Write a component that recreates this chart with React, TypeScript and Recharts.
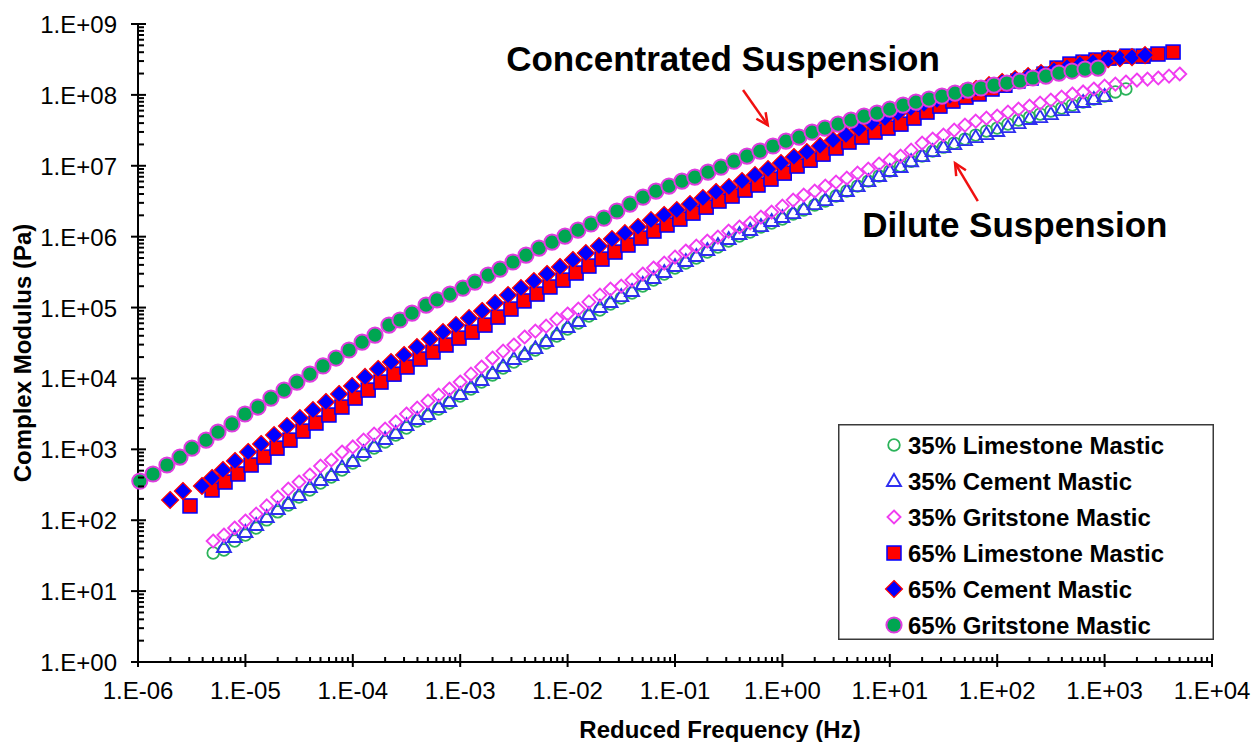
import React from "react";
import {
  ScatterChart,
  Scatter,
  XAxis,
  YAxis,
  Legend,
  Label,
  ReferenceLine,
} from "recharts";

const FONT = '"Liberation Sans", Arial, sans-serif';

// reduced frequency grid (Hz) shared by the 35% mastics
const FREQ_35 = [
  5.01e-6, 6.31e-6, 7.94e-6,
  1.0e-5, 1.26e-5, 1.58e-5, 2.0e-5, 2.51e-5, 3.16e-5, 3.98e-5, 5.01e-5, 6.31e-5, 7.94e-5,
  1.0e-4, 1.26e-4, 1.58e-4, 2.0e-4, 2.51e-4, 3.16e-4, 3.98e-4, 5.01e-4, 6.31e-4, 7.94e-4,
  1.0e-3, 1.26e-3, 1.58e-3, 2.0e-3, 2.51e-3, 3.16e-3, 3.98e-3, 5.01e-3, 6.31e-3, 7.94e-3,
  1.0e-2, 1.26e-2, 1.58e-2, 2.0e-2, 2.51e-2, 3.16e-2, 3.98e-2, 5.01e-2, 6.31e-2, 7.94e-2,
  0.1, 0.126, 0.158, 0.2, 0.251, 0.316, 0.398, 0.501, 0.631, 0.794,
  1.0, 1.26, 1.58, 2.0, 2.51, 3.16, 3.98, 5.01, 6.31, 7.94,
  10, 12.6, 15.8, 20, 25.1, 31.6, 39.8, 50.1, 63.1, 79.4,
  100, 126, 158, 200, 251, 316, 398, 501, 631, 794,
  1.0e3, 1.26e3, 1.58e3, 2.0e3, 2.51e3, 3.16e3, 3.98e3, 5.01e3,
];

// complex modulus (Pa), 35% mastics
const lim35Mod = [
  34.5, 38.0, 50.9, 61.8, 77.6, 101, 131, 164, 212, 267,
  335, 407, 511, 641, 831, 1.04e3, 1.27e3, 1.59e3, 2.0e3, 2.51e3,
  2.95e3, 3.7e3, 4.5e3, 5.65e3, 7.09e3, 8.9e3, 1.12e4, 1.4e4, 1.7e4, 2.07e4,
  2.52e4, 3.16e4, 3.96e4, 4.98e4, 6.05e4, 7.59e4, 9.22e4, 1.12e5, 1.36e5, 1.6e5,
  2.01e5, 2.44e5, 2.97e5, 3.61e5, 4.24e5, 4.99e5, 6.07e5, 7.13e5, 8.67e5, 1.02e6,
  1.16e6, 1.37e6, 1.56e6, 1.77e6, 2.08e6, 2.37e6, 2.79e6, 3.18e6, 3.74e6, 4.4e6,
  5.17e6, 6.08e6, 7.16e6, 8.42e6, 9.9e6, 1.16e7, 1.37e7, 1.61e7, 1.83e7, 2.09e7,
  2.38e7, 2.71e7, 3.09e7, 3.4e7, 3.87e7, 4.41e7, 4.86e7, 5.36e7, 5.91e7, 6.51e7,
  7.18e7, 7.92e7, 8.73e7, 9.62e7, 1.1e8, 1.21e8,
];

const cem35Mod = [
  41.9, 57.9, 68.2, 85.6, 111, 144, 175, 227, 294, 369,
  434, 563, 684, 916, 1.11e3, 1.4e3, 1.7e3, 2.2e3, 2.68e3, 3.15e3,
  3.95e3, 4.8e3, 6.03e3, 7.56e3, 9.49e3, 1.19e4, 1.5e4, 1.88e4, 2.21e4, 2.68e4,
  3.37e4, 4.23e4, 5.31e4, 6.45e4, 8.1e4, 1.02e5, 1.2e5, 1.45e5, 1.71e5, 2.15e5,
  2.61e5, 3.17e5, 3.85e5, 4.53e5, 5.33e5, 6.47e5, 7.61e5, 9.25e5, 1.09e6, 1.24e6,
  1.41e6, 1.66e6, 1.89e6, 2.15e6, 2.45e6, 2.88e6, 3.28e6, 3.74e6, 4.4e6, 5.17e6,
  6.08e6, 7.16e6, 8.42e6, 9.59e6, 1.16e7, 1.37e7, 1.61e7, 1.83e7, 2.02e7, 2.3e7,
  2.54e7, 2.8e7, 3.09e7, 3.51e7, 4.0e7, 4.56e7, 4.86e7, 5.36e7, 6.1e7, 6.73e7,
  7.92e7, 8.73e7, 9.62e7,
];

const grit35Mod = [
  50.9, 61.8, 77.6, 97.4, 122, 159, 212, 275, 346, 434,
  581, 707, 916, 1.08e3, 1.35e3, 1.64e3, 1.93e3, 2.43e3, 3.15e3, 3.82e3,
  4.8e3, 5.83e3, 7.09e3, 8.9e3, 1.15e4, 1.45e4, 1.94e4, 2.43e4, 2.96e4, 3.84e4,
  4.66e4, 5.48e4, 6.88e4, 8.1e4, 9.52e4, 1.2e5, 1.5e5, 1.82e5, 2.01e5, 2.44e5,
  2.97e5, 3.61e5, 4.24e5, 5.16e5, 6.27e5, 7.37e5, 8.67e5, 9.87e5, 1.2e6, 1.37e6,
  1.56e6, 1.89e6, 2.22e6, 2.7e6, 3.28e6, 3.86e6, 4.4e6, 5.17e6, 5.89e6, 6.71e6,
  7.89e6, 8.98e6, 1.06e7, 1.2e7, 1.37e7, 1.66e7, 2.09e7, 2.38e7, 2.71e7, 3.19e7,
  3.75e7, 4.27e7, 4.71e7, 5.02e7, 5.72e7, 6.3e7, 6.95e7, 7.66e7, 8.45e7, 9.31e7,
  1.03e8, 1.1e8, 1.21e8, 1.33e8, 1.42e8, 1.52e8, 1.62e8, 1.67e8, 1.73e8, 1.84e8,
  1.97e8,
];

// 65% mastics
const lim65Freq = [
  3.05e-6, 4.89e-6, 6.46e-6, 8.53e-6, 1.13e-5, 1.49e-5, 1.97e-5, 2.6e-5, 3.44e-5, 4.54e-5,
  6.0e-5, 7.92e-5, 1.05e-4, 1.39e-4, 1.83e-4, 2.42e-4, 3.2e-4, 4.23e-4, 5.58e-4, 7.38e-4,
  9.75e-4, 1.29e-3, 1.7e-3, 2.25e-3, 2.97e-3, 3.93e-3, 5.19e-3, 6.85e-3, 9.06e-3, 1.2e-2,
  1.58e-2, 2.09e-2, 2.76e-2, 3.65e-2, 4.82e-2, 6.37e-2, 8.43e-2, 0.111, 0.147, 0.195,
  0.257, 0.34, 0.449, 0.593, 0.783, 1.04, 1.37, 1.81, 2.39, 3.16,
  4.17, 5.51, 7.28, 9.62, 12.7, 16.8, 22.2, 29.3, 38.7, 51.2,
  67.8, 89.5, 118, 156, 207, 273, 361, 476, 630, 832,
  1.1e3, 1.62e3, 2.28e3, 3.14e3, 4.34e3,
];
const lim65Mod = [
  159, 267, 346, 449, 601, 778, 1.04e3, 1.35e3, 1.81e3, 2.35e3,
  3.05e3, 3.95e3, 5.29e3, 6.86e3, 8.89e3, 1.15e4, 1.45e4, 1.88e4, 2.36e4, 2.96e4,
  3.71e4, 4.51e4, 5.66e4, 7.34e4, 9.53e4, 1.24e5, 1.55e5, 1.95e5, 2.44e5, 3.07e5,
  3.85e5, 4.83e5, 6.07e5, 7.62e5, 9.55e5, 1.2e6, 1.46e6, 1.77e6, 2.15e6, 2.61e6,
  3.18e6, 3.74e6, 4.54e6, 5.35e6, 6.49e6, 7.88e6, 9.91e6, 1.2e7, 1.46e7, 1.78e7,
  2.16e7, 2.54e7, 2.99e7, 3.4e7, 3.87e7, 4.71e7, 5.72e7, 6.95e7, 8.18e7, 9.31e7,
  1.03e8, 1.21e8, 1.37e8, 1.57e8, 1.73e8, 1.96e8, 2.39e8, 2.72e8, 2.9e8, 3.1e8,
  3.3e8, 3.52e8, 3.52e8, 3.77e8, 4.02e8,
];

const cem65Freq = [
  1.99e-6, 2.62e-6, 3.94e-6, 4.89e-6, 6.18e-6, 8.0e-6, 1.06e-5, 1.4e-5, 1.85e-5, 2.44e-5,
  3.22e-5, 4.26e-5, 5.62e-5, 7.45e-5, 9.84e-5, 1.3e-4, 1.72e-4, 2.27e-4, 3.0e-4, 3.96e-4,
  5.24e-4, 6.92e-4, 9.14e-4, 1.21e-3, 1.6e-3, 2.11e-3, 2.79e-3, 3.68e-3, 4.86e-3, 6.43e-3,
  8.49e-3, 1.12e-2, 1.48e-2, 1.96e-2, 2.59e-2, 3.42e-2, 4.52e-2, 5.98e-2, 7.91e-2, 0.104,
  0.138, 0.182, 0.241, 0.318, 0.421, 0.556, 0.735, 0.971, 1.28, 1.69,
  2.24, 2.96, 3.91, 5.16, 6.82, 9.02, 11.9, 15.7, 20.8, 27.5,
  36.3, 48.1, 63.5, 83.9, 111, 147, 194, 256, 338, 447,
  590, 780, 1.08e3, 1.39e3, 1.8e3, 2.38e3,
];
const cem65Mod = [
  193, 258, 304, 394, 511, 684, 916, 1.19e3, 1.59e3, 2.13e3,
  2.76e3, 3.58e3, 4.65e3, 6.03e3, 7.82e3, 1.05e4, 1.36e4, 1.7e4, 2.14e4, 2.77e4,
  3.6e4, 4.51e4, 5.66e4, 7.11e4, 8.93e4, 1.16e5, 1.5e5, 1.88e5, 2.36e5, 2.97e5,
  3.73e5, 4.68e5, 5.87e5, 7.37e5, 9.25e5, 1.12e6, 1.37e6, 1.71e6, 2.02e6, 2.37e6,
  2.88e6, 3.5e6, 4.26e6, 5.01e6, 6.08e6, 7.39e6, 8.98e6, 1.09e7, 1.33e7, 1.56e7,
  1.9e7, 2.3e7, 2.71e7, 3.3e7, 4.0e7, 4.71e7, 5.54e7, 6.52e7, 7.42e7, 8.45e7,
  9.62e7, 1.09e8, 1.21e8, 1.37e8, 1.52e8, 1.67e8, 1.84e8, 2.03e8, 2.24e8, 2.47e8,
  2.72e8, 2.9e8, 3.2e8, 3.3e8, 3.41e8, 3.64e8,
];

const grit65Freq = [
  1.04e-6, 1.38e-6, 1.86e-6, 2.46e-6, 3.18e-6, 4.3e-6, 5.56e-6, 7.5e-6, 9.91e-6, 1.31e-5,
  1.73e-5, 2.29e-5, 3.02e-5, 3.99e-5, 5.28e-5, 6.98e-5, 9.23e-5, 1.22e-4, 1.61e-4, 2.17e-4,
  2.75e-4, 3.56e-4, 4.81e-4, 6.08e-4, 8.04e-4, 1.06e-3, 1.37e-3, 1.82e-3, 2.35e-3, 3.1e-3,
  4.1e-3, 5.42e-3, 7.16e-3, 9.46e-3, 1.25e-2, 1.65e-2, 2.18e-2, 2.88e-2, 3.81e-2, 5.04e-2,
  6.65e-2, 8.79e-2, 0.116, 0.153, 0.203, 0.268, 0.354, 0.468, 0.618, 0.817,
  1.08, 1.43, 1.89, 2.49, 3.3, 4.35, 5.75, 7.6, 10.0, 13.3,
  17.5, 23.2, 30.6, 40.5, 53.5, 70.6, 93.3, 123, 163, 215,
  284, 376, 497, 658, 869,
];
const grit65Mod = [
  357, 449, 601, 778, 1.04e3, 1.35e3, 1.75e3, 2.28e3, 3.15e3, 3.95e3,
  5.29e3, 6.86e3, 8.89e3, 1.15e4, 1.5e4, 1.94e4, 2.52e4, 3.26e4, 4.09e4, 5.66e4,
  6.67e4, 8.36e4, 1.08e5, 1.28e5, 1.55e5, 1.88e5, 2.29e5, 2.87e5, 3.49e5, 4.39e5,
  5.5e5, 6.9e5, 8.39e5, 1.02e6, 1.24e6, 1.51e6, 1.83e6, 2.3e6, 2.88e6, 3.62e6,
  4.4e6, 5.17e6, 6.08e6, 6.93e6, 8.15e6, 9.59e6, 1.16e7, 1.37e7, 1.61e7, 1.9e7,
  2.23e7, 2.54e7, 2.99e7, 3.4e7, 3.87e7, 4.41e7, 5.02e7, 5.54e7, 6.31e7, 7.18e7,
  7.91e7, 8.73e7, 9.62e7, 1.06e8, 1.17e8, 1.25e8, 1.37e8, 1.47e8, 1.57e8, 1.73e8,
  1.84e8, 2.03e8, 2.17e8, 2.31e8, 2.39e8,
];

const X_MAJOR = [1e-6, 1e-5, 1e-4, 1e-3, 1e-2, 1e-1, 1, 10, 100, 1e3, 1e4];
const Y_MAJOR = [1, 10, 100, 1e3, 1e4, 1e5, 1e6, 1e7, 1e8, 1e9];

const withMinors = (majors: number[]) => {
  const out: number[] = [];
  majors.forEach((m, i) => {
    out.push(m);
    if (i < majors.length - 1) for (let k = 2; k <= 9; k++) out.push(m * k);
  });
  return out;
};

const isMajor = (v: number) => {
  const l = Math.log10(v);
  return Math.abs(l - Math.round(l)) < 1e-6;
};

// Excel style "1.E+05"
const fmtExp = (v: number) => {
  const e = Math.round(Math.log10(v));
  return `1.E${e < 0 ? "-" : "+"}${String(Math.abs(e)).padStart(2, "0")}`;
};

const zip = (fs: number[], gs: number[], start = 0) =>
  gs.map((g, i) => ({ f: fs[i + start], g }));

type Kind = "openCircle" | "openTriangle" | "openDiamond" | "square" | "diamond" | "circle";

const SERIES: { name: string; kind: Kind; data: { f: number; g: number }[] }[] = [
  { name: "35% Limestone Mastic", kind: "openCircle", data: zip(FREQ_35, lim35Mod, 0) },
  { name: "35% Cement Mastic", kind: "openTriangle", data: zip(FREQ_35, cem35Mod, 1) },
  { name: "35% Gritstone Mastic", kind: "openDiamond", data: zip(FREQ_35, grit35Mod, 0) },
  { name: "65% Limestone Mastic", kind: "square", data: zip(lim65Freq, lim65Mod) },
  { name: "65% Cement Mastic", kind: "diamond", data: zip(cem65Freq, cem65Mod) },
  { name: "65% Gritstone Mastic", kind: "circle", data: zip(grit65Freq, grit65Mod) },
];

function Marker({ kind, cx, cy }: { kind: Kind; cx: number; cy: number }) {
  switch (kind) {
    case "openCircle":
      return <circle cx={cx} cy={cy} r={5.8} fill="none" stroke="#2BB35A" strokeWidth={1.8} />;
    case "openTriangle":
      return (
        <path
          d={`M${cx},${cy - 7} L${cx + 7},${cy + 5} L${cx - 7},${cy + 5} Z`}
          fill="none"
          stroke="#2F2FF0"
          strokeWidth={1.9}
        />
      );
    case "openDiamond":
      return (
        <path
          d={`M${cx},${cy - 6.5} L${cx + 6.5},${cy} L${cx},${cy + 6.5} L${cx - 6.5},${cy} Z`}
          fill="none"
          stroke="#F03CF0"
          strokeWidth={1.9}
        />
      );
    case "square":
      return (
        <rect x={cx - 7} y={cy - 7} width={14} height={14} fill="#FF0000" stroke="#0000FF" strokeWidth={1.5} />
      );
    case "diamond":
      return (
        <path
          d={`M${cx},${cy - 8.5} L${cx + 8.5},${cy} L${cx},${cy + 8.5} L${cx - 8.5},${cy} Z`}
          fill="#0000FF"
          stroke="#FF0000"
          strokeWidth={1.2}
        />
      );
    default:
      return <circle cx={cx} cy={cy} r={7.6} fill="#00A651" stroke="#E03CE0" strokeWidth={2} />;
  }
}

const XTick = ({ x, y, payload }: any) => {
  const major = isMajor(payload.value);
  return (
    <g>
      <line x1={x} x2={x} y1={y - (major ? 8 : 5)} y2={y + (major ? 5 : 0)} stroke="#000" strokeWidth={2} />
      {major && (
        <text x={x} y={y + 37} textAnchor="middle" fontSize={24} fontFamily={FONT} fill="#000">
          {fmtExp(payload.value)}
        </text>
      )}
    </g>
  );
};

const YTick = ({ x, y, payload }: any) => {
  const major = isMajor(payload.value);
  return (
    <g>
      <line x1={x - (major ? 7 : 0)} x2={x + (major ? 8 : 6)} y1={y} y2={y} stroke="#000" strokeWidth={2} />
      {major && (
        <text x={x - 21} y={y + 9} textAnchor="end" fontSize={24} fontFamily={FONT} fill="#000">
          {fmtExp(payload.value)}
        </text>
      )}
    </g>
  );
};

const renderLegend = () => (
  <svg width={376} height={216} style={{ display: "block" }}>
    <rect x={0.75} y={0.75} width={374.5} height={214.5} fill="#fff" stroke="#3a3a3a" strokeWidth={1.5} />
    {SERIES.map((s, i) => (
      <g key={s.name}>
        <Marker kind={s.kind} cx={56} cy={21 + i * 36} />
        <text x={70} y={21 + i * 36 + 8.5} fontSize={24} fontWeight="bold" fontFamily={FONT} fill="#000">
          {s.name}
        </text>
      </g>
    ))}
  </svg>
);

// annotation arrows, text placed relative to the arrow tail
const ARROWS = [
  { text: "Concentrated Suspension", from: { x: 0.43, y: 1.17e8 }, to: { x: 0.73, y: 3.75e7 }, dx: -20, dy: -19 },
  { text: "Dilute Suspension", from: { x: 66, y: 3.18e6 }, to: { x: 40.5, y: 1.09e7 }, dx: 37, dy: 36 },
];

const arrowShape = (text: string, dx: number, dy: number) => (props: any) => {
  const { x1, y1, x2, y2 } = props;
  const ang = Math.atan2(y2 - y1, x2 - x1);
  const len = 13;
  const a = 0.45;
  const h1 = `${x2 - len * Math.cos(ang - a)},${y2 - len * Math.sin(ang - a)}`;
  const h2 = `${x2 - len * Math.cos(ang + a)},${y2 - len * Math.sin(ang + a)}`;
  return (
    <g>
      <line x1={x1} y1={y1} x2={x2} y2={y2} stroke="#F01010" strokeWidth={2.5} />
      <polyline points={`${h1} ${x2},${y2} ${h2}`} fill="none" stroke="#F01010" strokeWidth={2.5} />
      <text x={x1 + dx} y={y1 + dy} textAnchor="middle" fontSize={35} fontWeight="bold" fontFamily={FONT} fill="#000">
        {text}
      </text>
    </g>
  );
};

export default function App() {
  return (
    <div style={{ position: "absolute", left: 0, top: 0, width: 1252, height: 742, background: "#fff", fontFamily: FONT }}>
      <ScatterChart width={1252} height={742} margin={{ top: 24, right: 40, bottom: 20, left: 0 }}>
        <XAxis
          dataKey="f"
          type="number"
          scale="log"
          domain={[1e-6, 1e4]}
          ticks={withMinors(X_MAJOR)}
          interval={0}
          tick={<XTick />}
          tickLine={false}
          tickSize={0}
          tickMargin={0}
          height={60}
          axisLine={{ stroke: "#000", strokeWidth: 2 }}
        >
          <Label
            content={({ viewBox }: any) => (
              <text
                x={viewBox.x + viewBox.width / 2 + 45}
                y={viewBox.y + 76}
                textAnchor="middle"
                fontSize={24}
                fontWeight="bold"
                fontFamily={FONT}
                fill="#000"
              >
                Reduced Frequency (Hz)
              </text>
            )}
          />
        </XAxis>
        <YAxis
          dataKey="g"
          type="number"
          scale="log"
          domain={[1, 1e9]}
          ticks={withMinors(Y_MAJOR)}
          interval={0}
          tick={<YTick />}
          tickLine={false}
          tickSize={0}
          tickMargin={0}
          width={138}
          axisLine={{ stroke: "#000", strokeWidth: 2 }}
        >
          <Label
            content={({ viewBox }: any) => {
              const cx = 22;
              const cy = viewBox.y + viewBox.height / 2 + 10;
              return (
                <text
                  x={cx}
                  y={cy}
                  transform={`rotate(-90, ${cx}, ${cy})`}
                  textAnchor="middle"
                  dominantBaseline="central"
                  fontSize={24}
                  fontWeight="bold"
                  fontFamily={FONT}
                  fill="#000"
                >
                  Complex Modulus (Pa)
                </text>
              );
            }}
          />
        </YAxis>

        {SERIES.map((s) => (
          <Scatter
            key={s.name}
            name={s.name}
            data={s.data}
            isAnimationActive={false}
            shape={(p: any) => <Marker kind={s.kind} cx={p.cx} cy={p.cy} />}
          />
        ))}

        {ARROWS.map((a) => (
          <ReferenceLine
            key={a.text}
            segment={[a.from, a.to]}
            shape={arrowShape(a.text, a.dx, a.dy)}
          />
        ))}

        <Legend
          layout="vertical"
          align="center"
          verticalAlign="middle"
          content={renderLegend}
          wrapperStyle={{ left: 838, top: 424, width: 376, height: 216 }}
        />
      </ScatterChart>
    </div>
  );
}
